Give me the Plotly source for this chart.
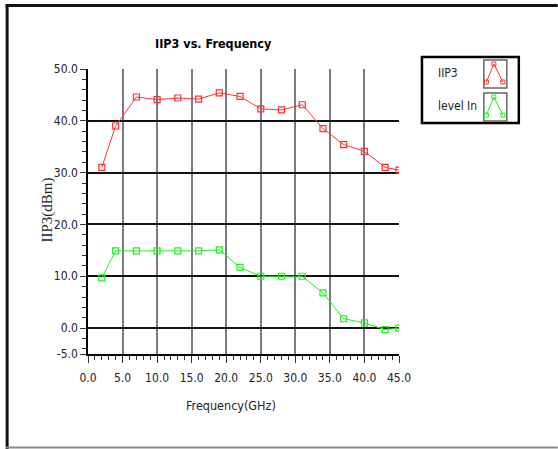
import plotly.graph_objects as go

freq = [2, 4, 7, 10, 13, 16, 19, 22, 25, 28, 31, 34, 37, 40, 43, 45]
iip3 = [31.0, 39.0, 44.6, 44.1, 44.4, 44.2, 45.4, 44.7, 42.3, 42.1, 43.1, 38.5, 35.4, 34.1, 31.0, 30.5]
level_in = [9.7, 14.9, 14.9, 14.9, 14.9, 14.9, 15.1, 11.7, 10.0, 10.0, 10.0, 6.8, 1.8, 1.0, -0.3, 0.0]

x_ticks = [0, 5, 10, 15, 20, 25, 30, 35, 40, 45]
y_ticks = [-5, 0, 10, 20, 30, 40, 50]

W, H = 558, 449
L, R, T, B = 87.5, 399, 69, 354

def px(x):
    return (x - L) / (R - L)

def py(y):
    return (B - y) / (B - T)

RED = "#ff3030"
GREEN = "#22ee22"
NARROW = "DejaVu Sans Condensed, sans-serif"

fig = go.Figure()
fig.add_trace(go.Scatter(x=freq, y=iip3, mode="lines+markers", name="IIP3",
                         line=dict(color=RED, width=1),
                         marker=dict(symbol="square-open", size=6, color=RED, line=dict(width=1.2))))
fig.add_trace(go.Scatter(x=freq, y=level_in, mode="lines+markers", name="level In",
                         line=dict(color=GREEN, width=1),
                         marker=dict(symbol="square-open", size=6, color=GREEN, line=dict(width=1.2))))

font_tick = dict(family=NARROW, size=12, color="#222")

shapes = []
# outer frame
shapes.append(dict(type="line", xref="paper", yref="paper", x0=px(6.5), x1=px(6.5), y0=py(5), y1=py(449), line=dict(color="#111", width=3)))
shapes.append(dict(type="line", xref="paper", yref="paper", x0=px(5), x1=px(558), y0=py(5.5), y1=py(5.5), line=dict(color="#111", width=3)))
shapes.append(dict(type="line", xref="paper", yref="paper", x0=px(5), x1=px(558), y0=py(447.5), y1=py(447.5), line=dict(color="#888", width=2)))
# legend box
shapes.append(dict(type="rect", xref="paper", yref="paper", x0=px(422), x1=px(519), y0=py(57), y1=py(123), line=dict(color="#000", width=2.5), fillcolor="white"))
for i, col in enumerate([RED, GREEN]):
    top = 60 + i * 33
    shapes.append(dict(type="rect", xref="paper", yref="paper", x0=px(484), x1=px(507), y0=py(top), y1=py(top + 28), line=dict(color="#666", width=1.5)))
    pts = [(486.5, top + 22), (494, top + 4), (503, top + 22)]
    path = "M " + " L ".join(f"{px(a)},{py(b)}" for a, b in pts)
    shapes.append(dict(type="path", xref="paper", yref="paper", path=path, line=dict(color=col, width=1)))
    for a, b in pts:
        shapes.append(dict(type="rect", xref="paper", yref="paper", x0=px(a - 2), x1=px(a + 2), y0=py(b - 2), y1=py(b + 2), line=dict(color=col, width=1)))

annotations = [
    dict(text="<b>IIP3 vs. Frequency</b>", xref="paper", yref="paper", x=px(213), y=py(44), showarrow=False,
         xanchor="center", yanchor="middle", font=dict(family=NARROW, size=12.5, color="#000")),
    dict(text="Frequency(GHz)", xref="paper", yref="paper", x=px(231), y=py(405), showarrow=False,
         xanchor="center", yanchor="middle", font=dict(family=NARROW, size=12.5, color="#222")),
    dict(text="IIP3(dBm)", xref="paper", yref="paper", x=px(46), y=py(210), showarrow=False, textangle=-90,
         xanchor="center", yanchor="middle", font=dict(family="Liberation Serif, serif", size=15, color="#222")),
    dict(text="IIP3", xref="paper", yref="paper", x=px(436), y=py(73), showarrow=False,
         xanchor="left", yanchor="middle", font=dict(family=NARROW, size=12, color="#222")),
    dict(text="level In", xref="paper", yref="paper", x=px(436), y=py(106), showarrow=False,
         xanchor="left", yanchor="middle", font=dict(family=NARROW, size=12, color="#222")),
]

fig.update_layout(
    width=W, height=H,
    margin=dict(l=L, r=W - R, t=T, b=H - B, pad=0),
    paper_bgcolor="white", plot_bgcolor="white",
    showlegend=False,
    shapes=shapes, annotations=annotations,
    xaxis=dict(range=[0, 45], tickvals=x_ticks, ticktext=[f"{v:.1f}" for v in x_ticks],
               showgrid=True, gridcolor="#7a7a7a", gridwidth=1.5,
               showline=True, linecolor="#000", linewidth=1.5,
               ticks="outside", ticklen=7, tickcolor="#333", tickfont=font_tick, ticklabelstandoff=5,
               minor=dict(tickvals=[v for v in range(0, 46) if v % 5 != 0], ticks="outside", ticklen=4, tickcolor="#333", showgrid=False),
               zeroline=False, fixedrange=True),
    yaxis=dict(range=[-5, 50], tickvals=y_ticks, ticktext=[f"{v:.1f}" for v in y_ticks],
               showgrid=True, gridcolor="#111", gridwidth=1.5,
               showline=True, linecolor="#000", linewidth=1.5,
               ticks="outside", ticklen=6, tickcolor="#333", tickfont=font_tick, ticklabelstandoff=0,
               minor=dict(tickvals=[v for v in range(-4, 50, 2) if v % 10 != 0], ticks="outside", ticklen=4, tickcolor="#333", showgrid=False),
               zeroline=False, fixedrange=True),
)

fig.write_html("out.html", config={"displayModeBar": False},
               post_script="document.body.style.margin='0px';document.body.style.overflow='hidden';")
